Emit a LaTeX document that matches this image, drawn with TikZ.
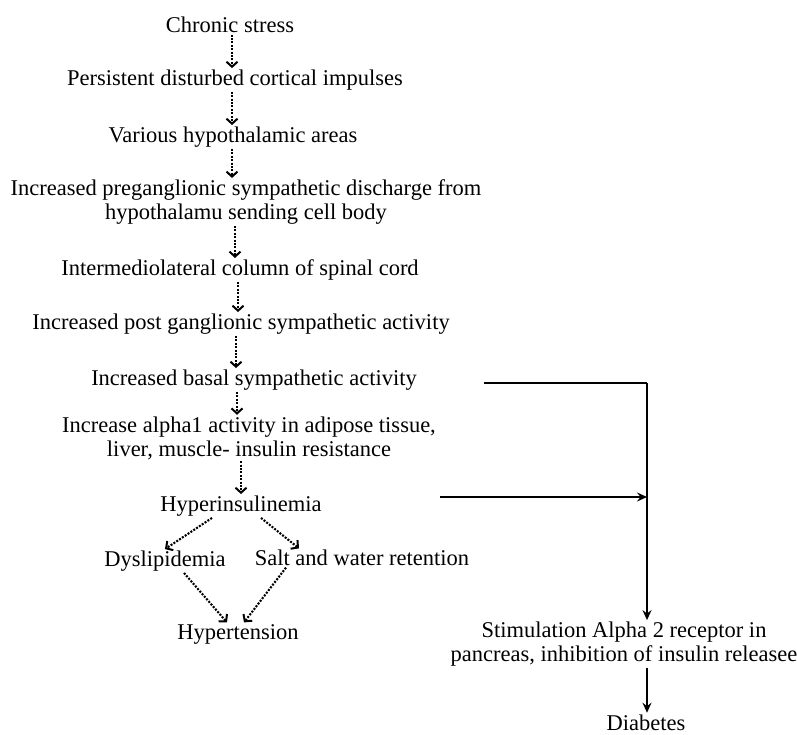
\documentclass[tikz,border=0pt]{standalone}
\usepackage{fontspec}
\setmainfont{Liberation Serif}
\usetikzlibrary{arrows.meta}

\begin{document}
\begin{tikzpicture}[
    x=1pt, y=-1pt,
    every node/.style={align=center, inner sep=1.5pt, font=\fontsize{22.5}{24}\selectfont},
    dotarrow/.style={line width=2.1pt, dash pattern=on 2pt off 1.4pt,
        -{Straight Barb[length=5pt, width=11pt, line width=2pt]}},
    solidarrow/.style={line width=2pt, -{Stealth[length=10pt, width=9pt, inset=3.5pt]}},
    plainline/.style={line width=2pt}
  ]
  \useasboundingbox (0,0) rectangle (797,735);

  % left column
  \node (stress)  at (230,25)  {Chronic stress};
  \node (cortex)  at (235,80)  {Persistent disturbed cortical impulses};
  \node (hypoth)  at (233,137) {Various hypothalamic areas};
  \node (pregang) at (246,202) {Increased preganglionic sympathetic discharge from\\ hypothalamu sending cell body};
  \node (column)  at (240,270) {Intermediolateral column of spinal cord};
  \node (post)    at (241,324) {Increased post ganglionic sympathetic activity};
  \node (basal)   at (254,380) {Increased basal sympathetic activity};
  \node (alpha)   at (249,438) {Increase alpha1 activity in adipose tissue,\\ liver, muscle- insulin resistance};
  \node (hyper)   at (241,506) {Hyperinsulinemia};
  \node (dysl)    at (165,561) {Dyslipidemia};
  \node (salt)    at (362,558) {Salt and water retention};
  \node (hypert)  at (238,634) {Hypertension};

  % right column
  \node (stim) at (624,644) {Stimulation Alpha 2 receptor in\\ pancreas, inhibition of insulin releasee};
  \node[anchor=base] (diab) at (646,730) {Diabetes};

  \coordinate (basalout) at (484,383);
  \coordinate (hypout)   at (440,497);
  \coordinate (junction) at (647,383);

  % dotted chain
  \foreach \a/\da/\b/\db in {stress/2/cortex/-3, cortex/-3/hypoth/-1,
      hypoth/-1/pregang/-14, pregang/-11/column/-5, column/-2/post/-3,
      post/-5/basal/-18, basal/-17/alpha/-12, alpha/-8/hyper/0}
    \draw[dotarrow] ([xshift=\da pt]\a.south) -- ([xshift=\db pt]\b.north);

  \draw[dotarrow] ([xshift=-29pt]hyper.south) -- (dysl.north);
  \draw[dotarrow] ([xshift=20pt]hyper.south) -- ([xshift=-63pt]salt.north);
  \draw[dotarrow] ([xshift=19pt]dysl.south) -- ([xshift=-11pt]hypert.north);
  \draw[dotarrow] ([xshift=-76pt]salt.south) -- ([xshift=6pt]hypert.north);

  % solid side branch
  \draw[plainline] (basalout) -- (junction);
  \draw[solidarrow] (junction) -- (junction |- stim.north);
  \draw[solidarrow] (hypout) -- (hypout -| junction);
  \draw[solidarrow] (stim.south -| junction) -- (diab.north -| junction);
\end{tikzpicture}
\end{document}
